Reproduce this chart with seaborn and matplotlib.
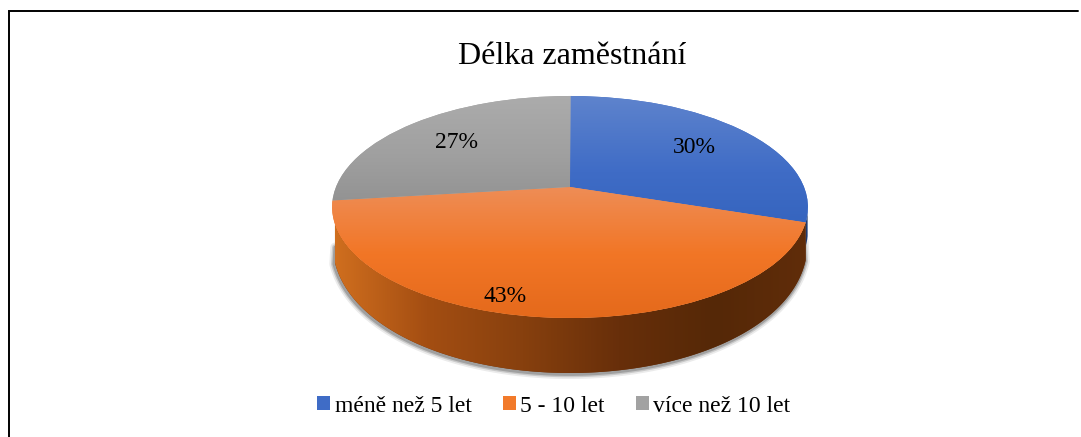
import numpy as np
import matplotlib
matplotlib.use("Agg")
import matplotlib.pyplot as plt
import seaborn as sns
from matplotlib.colors import LinearSegmentedColormap
from matplotlib.lines import Line2D
from matplotlib.patches import Polygon
from matplotlib.transforms import Transform

categories = ["méně než 5 let", "5 - 10 let", "více než 10 let"]
shares = [30, 43, 27]
title = "Délka zaměstnání"

sns.set_theme(style="white")
plt.rcParams["font.family"] = ["Liberation Serif", "DejaVu Serif"]

legend_colors = ["#3f6cc6", "#f27a2a", "#a2a2a2"]
top_stops = [
    ["#5f84cd", "#3f6cc6", "#3161bb"],
    ["#ee8d56", "#f27626", "#e4691b"],
    ["#acacac", "#a0a0a0", "#8f8f8f"],
]
wall_stops = ["#d2701f", "#a44e12", "#87400e", "#682f0a", "#552807", "#612d0a"]

W, H = 1081, 437
CX, CY, A, B, C = 570.0, 187.0, 0.18, 107.4, 234.0


class Perspective(Transform):
    input_dims = output_dims = 2

    def transform_non_affine(self, xy):
        xy = np.asarray(xy, float)
        w = 1 + A * xy[:, 1]
        return np.column_stack([CX + C * xy[:, 0] / w, CY - B * xy[:, 1] / w])


persp = Perspective()
fig = plt.figure(figsize=(W / 100, H / 100), dpi=100)
ax = fig.add_axes([0, 0, 1, 1])

wedges, _, autotexts = ax.pie(
    shares, autopct="%.0f%%", pctdistance=0.7, startangle=89.85, counterclock=False,
    colors=sns.color_palette(legend_colors), textprops={"fontsize": 17, "color": "black"},
)
ax.set_aspect("auto")
to_px = persp + ax.transData
for w in wedges:
    w.set_transform(to_px)
    w.set_linewidth(0)
autotexts[1].set_position((-0.236, -0.845))
for t in autotexts:
    t.set_transform(to_px)
    x, y = t.get_position()
    t.set_position((x, y - 0.015))


def rim(theta_deg):
    t = np.radians(theta_deg)
    return persp.transform_non_affine(np.column_stack([np.cos(t), np.sin(t)]))


def lowered(points):
    s = np.sqrt(np.clip(1 - ((points[:, 0] - CX) / 238.0) ** 2, 0, 1))
    return points + np.column_stack([np.zeros(len(s)), 28 + 27 * np.sqrt(s)])


front = rim(np.linspace(199, 342, 240))
wall = np.vstack([front, lowered(front)[::-1]])
low = lowered(front)
shadow_x = np.concatenate([[front[0, 0] + 1], low[:, 0], [front[-1, 0] - 1]])
shadow_y = np.concatenate([[front[0, 1] + 22], low[:, 1], [front[-1, 1] + 18]])
for lw, alpha in [(7, 0.08), (4.5, 0.14), (2.5, 0.2)]:
    ax.add_line(Line2D(shadow_x - 0.8, shadow_y + 1.2, color="black", lw=lw, alpha=alpha,
                       zorder=0.5, solid_capstyle="round"))
wall_patch = Polygon(wall, closed=True, fc=wall_stops[3], ec="none", zorder=0.8)
ax.add_patch(wall_patch)
img = ax.imshow(
    np.linspace(0, 1, 256)[None, :],
    cmap=LinearSegmentedColormap.from_list("wall", wall_stops),
    extent=(330, 812, 400, 180), aspect="auto", zorder=0.9,
)
img.set_clip_path(wall_patch)

blue = rim(np.linspace(342, 347, 12))
ax.add_patch(Polygon(np.vstack([blue, (blue + [0, 24])[::-1]]), closed=True, fc="#1f3a70", ec="none", zorder=0.85))

for w, stops, span in zip(wedges, top_stops, [(250, 94), (320, 187), (215, 94)]):
    im = ax.imshow(
        np.linspace(0, 1, 256)[:, None],
        cmap=LinearSegmentedColormap.from_list("top", stops),
        extent=(325, 815, span[0], span[1]),
        aspect="auto", zorder=2,
    )
    im.set_clip_path(w)

ax.set_xlim(0, W)
ax.set_ylim(H, 0)
ax.set_axis_off()

ax.text(572, 57, title, ha="center", va="center", fontsize=23, color="black")
ax.add_line(Line2D([9, 9, 1078], [H, 11, 11], color="black", lw=1.4, solid_joinstyle="miter"))

ax.legend(
    wedges, categories, ncols=3, loc="center", bbox_to_anchor=(554 / W, 1 - 406 / H),
    frameon=False, fontsize=17, handlelength=0.55, handleheight=0.55, handletextpad=0.2,
    columnspacing=1.3, labelcolor="black",
)

fig.savefig("out.png", dpi=100)
